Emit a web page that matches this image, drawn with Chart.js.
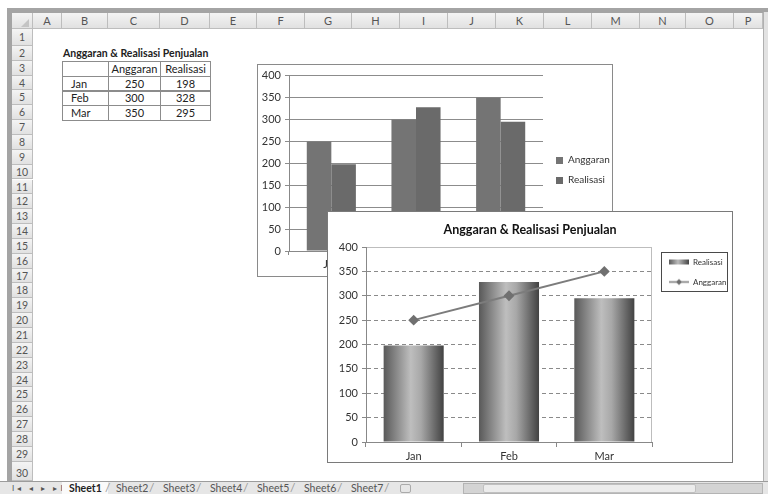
<!DOCTYPE html>
<html>
<head>
<meta charset="utf-8">
<script src="https://cdn.jsdelivr.net/npm/chart.js@4.4.1/dist/chart.umd.min.js"></script>
<style>
  body { margin: 0; width: 768px; height: 494px; overflow: hidden; background: #fff; position: relative; font-family: Lato, "Open Sans", sans-serif; color: #222; }
  .abs { position: absolute; box-sizing: border-box; }
  .hdr { background: linear-gradient(#f4f4f4, #e1e1e1); border-right: 1px solid #bdbdbd; border-bottom: 1px solid #bdbdbd; color: #555; font-size: 11px; text-align: center; }
  .cell { font-size: 11px; line-height: 14px; border: 1px solid #8c8c8c; text-align: center; color: #222; }
  .tab { font-size: 10.5px; color: #555; top: 482px; height: 12px; line-height: 12px; }
  .chartbox { background: #fff; }
</style>
</head>
<body>
<div id="sheet"></div>

<div class="abs chartbox" style="left:257px; top:64px; width:356px; height:213px; border:1px solid #8a8a8a; z-index:2;">
  <canvas id="chart1"></canvas>
</div>
<div class="abs chartbox" style="left:327px; top:211px; width:406px; height:252px; border:1px solid #7a7a7a; z-index:3;">
  <canvas id="chart2"></canvas>
</div>

<script>
// data
const months = ['Jan', 'Feb', 'Mar'];
const anggaran = [250, 300, 350];
const realisasi = [198, 328, 295];
const tableTitle = 'Anggaran & Realisasi Penjualan';
const yMin = 0, yMax = 400, yStep = 50;

// spreadsheet frame
const colLetters = ['A','B','C','D','E','F','G','H','I','J','K','L','M','N','O','P'];
const colEdges = [33, 62, 108, 160, 210, 257, 305, 352, 400, 448, 496, 544, 592, 640, 686, 734, 763];
const sheetTabs = ['Sheet1','Sheet2','Sheet3','Sheet4','Sheet5','Sheet6','Sheet7'];

const sheet = document.getElementById('sheet');
function box(style, cls, text) {
    const d = document.createElement('div');
    d.className = 'abs ' + (cls || '');
    d.setAttribute('style', style);
    if (text !== undefined) d.textContent = text;
    sheet.appendChild(d);
    return d;
}
function rowTop(n) { return n === 1 ? 29 : 31 + (n - 1) * 14.85; }

// window frame
box('left:7px; top:8px; width:761px; height:5px; background:#a4a4a4;');
box('left:7px; top:8px; width:5px; height:474px; background:#a4a4a4;');
box('left:763px; top:12px; width:5px; height:470px; background:#e2e2e2; border-left:1px solid #b0b0b0;');

// corner + column headers
box('left:12px; top:13px; width:21px; height:16px;', 'hdr');
box('left:21px; top:19px; width:0; height:0; border-left:8px solid transparent; border-bottom:8px solid #c4c4c4;');
colLetters.forEach((c, i) => {
    box(`left:${colEdges[i]}px; top:13px; width:${colEdges[i + 1] - colEdges[i]}px; height:16px; line-height:16px;`, 'hdr', c);
});

// row headers
for (let n = 1; n <= 30; n++) {
    const top = rowTop(n);
    const bottom = n === 30 ? 481 : rowTop(n + 1);
    const h = bottom - top;
    const lh = n === 30 ? 2 * h - 15 : h;
    box(`left:12px; top:${top}px; width:21px; height:${h}px; line-height:${lh}px; font-size:10.5px;`, 'hdr', String(n));
}

// table
box(`left:63px; top:${rowTop(2)}px; height:15px; line-height:15px; font-size:10.5px; font-weight:bold; white-space:nowrap;`, '', tableTitle);
const tCols = [62, 108, 160, 210];
const headRow = ['', 'Anggaran', 'Realisasi'];
headRow.forEach((t, c) => {
    box(`left:${tCols[c]}px; top:${rowTop(3)}px; width:${tCols[c + 1] - tCols[c] + 1}px; height:16px;`, 'cell', t);
});
months.forEach((m, r) => {
    const vals = [m, anggaran[r], realisasi[r]];
    vals.forEach((v, c) => {
        const align = c === 0 ? 'text-align:left; padding-left:8px;' : '';
        box(`left:${tCols[c]}px; top:${rowTop(4 + r)}px; width:${tCols[c + 1] - tCols[c] + 1}px; height:16px; ${align}`, 'cell', String(v));
    });
});

// sheet tab bar
box('left:0; top:481px; width:768px; height:13px; background:#e6e6e6; border-top:1px solid #9c9c9c;');
box('left:12px; top:482px; height:12px; line-height:12px; font-size:8px; color:#555; letter-spacing:3px;', '', 'I◂ ◂ ▸ ▸I');
box('left:62px; top:482px; width:46px; height:12px; background:#fafafa;');
sheetTabs.forEach((t, i) => {
    const x = i === 0 ? 69 : 116 + (i - 1) * 47;
    const tb = box(`left:${x}px;`, 'tab', t);
    if (i === 0) { tb.style.fontWeight = 'bold'; tb.style.color = '#222'; }
    box(`left:${x + (i === 0 ? 36 : 33)}px; top:482px; font-size:12px; line-height:12px; color:#999;`, '', '/');
});
box('left:400px; top:484px; width:11px; height:9px; border:1px solid #aaa; border-radius:2px;');
box('left:463px; top:483px; width:300px; height:11px; background:#d4d4d4; border:1px solid #b4b4b4;');
box('left:483px; top:484px; width:213px; height:9px; background:#ececec; border:1px solid #c0c0c0; border-radius:2px;');

// charts
Chart.defaults.font.family = 'Lato, "Open Sans", sans-serif';
Chart.defaults.color = '#333';

function squareIcon(color) {
    const c = document.createElement('canvas');
    c.width = 10; c.height = 7;
    const x = c.getContext('2d');
    x.fillStyle = color;
    x.fillRect(3, 0, 7, 7);
    return c;
}

function createBudgetChart() {
    const ctx = document.getElementById('chart1');
    const colors = ['#747474', '#6a6a6a'];
    const icons = colors.map(squareIcon);
    return new Chart(ctx, {
        type: 'bar',
        data: {
            labels: months,
            datasets: [
                { label: 'Anggaran', data: anggaran, backgroundColor: colors[0], categoryPercentage: 0.58, barPercentage: 1 },
                { label: 'Realisasi', data: realisasi, backgroundColor: colors[1], categoryPercentage: 0.58, barPercentage: 1 }
            ]
        },
        options: {
            responsive: true,
            maintainAspectRatio: false,
            animation: false,
            layout: { padding: { top: 9, right: 0, left: 0, bottom: 0 } },
            plugins: {
                legend: {
                    position: 'right',
                    align: 'start',
                    maxWidth: 69,
                    // empty title only used as a spacer to push the items down
                    title: { display: true, text: ' ', font: { size: 10 }, padding: { top: 59, bottom: 0 } },
                    labels: {
                        usePointStyle: true, pointStyleWidth: 10, boxHeight: 10, padding: 10,
                        font: { size: 10 }, color: '#333',
                        generateLabels(chart) {
                            const items = Chart.defaults.plugins.legend.labels.generateLabels(chart);
                            items.forEach(it => { it.pointStyle = icons[it.datasetIndex]; it.lineWidth = 0; });
                            return items;
                        }
                    }
                },
                tooltip: { enabled: false }
            },
            scales: {
                x: {
                    grid: { drawOnChartArea: false, tickLength: 4, color: '#888' },
                    border: { color: '#888' },
                    ticks: { font: { size: 11 }, padding: 3 },
                    afterFit(s) { s.height = 25; }
                },
                y: {
                    min: yMin, max: yMax,
                    ticks: { stepSize: yStep, font: { size: 11 }, padding: 4 },
                    grid: { color: '#8c8c8c', tickLength: 4 },
                    border: { color: '#888' },
                    afterFit(s) { s.width = 31; }
                }
            }
        }
    });
}

// bar gradient, dark edges with a light band a bit left of center
const barPct = 0.63;
function barGradient(context) {
    const chart = context.chart;
    const xs = chart.scales.x;
    if (!chart.chartArea || !xs || context.dataIndex === undefined) return '#8a8a8a';
    const cx = xs.getPixelForValue(context.dataIndex);
    const w = xs.width / months.length * barPct;
    const g = chart.ctx.createLinearGradient(cx - w / 2, 0, cx + w / 2, 0);
    g.addColorStop(0, '#595959');
    g.addColorStop(0.45, '#bebebe');
    g.addColorStop(0.62, '#a8a8a8');
    g.addColorStop(1, '#424242');
    return g;
}

function legendIcon(kind) {
    const c = document.createElement('canvas');
    c.width = 25; c.height = 9;
    const x = c.getContext('2d');
    if (kind === 'bar') {
        const g = x.createLinearGradient(5, 0, 25, 0);
        g.addColorStop(0, '#5a5a5a'); g.addColorStop(0.45, '#bcbcbc'); g.addColorStop(1, '#454545');
        x.fillStyle = g;
        x.fillRect(5, 2, 20, 5);
    } else {
        x.strokeStyle = '#777'; x.lineWidth = 1.5;
        x.beginPath(); x.moveTo(5, 4.5); x.lineTo(25, 4.5); x.stroke();
        x.fillStyle = '#6e6e6e';
        x.beginPath(); x.moveTo(15, 1.5); x.lineTo(18, 4.5); x.lineTo(15, 7.5); x.lineTo(12, 4.5); x.closePath(); x.fill();
    }
    return c;
}
const legendIcons = [legendIcon('bar'), legendIcon('line')];

const plotFrame = {
    id: 'plotFrame',
    beforeDatasetsDraw(chart) {
        const { top, right, bottom } = chart.chartArea;
        const c = chart.ctx;
        c.save();
        c.strokeStyle = '#bdbdbd';
        c.lineWidth = 1;
        c.beginPath();
        c.moveTo(Math.round(right) - 0.5, Math.round(top) + 0.5);
        c.lineTo(Math.round(right) - 0.5, Math.round(bottom));
        c.stroke();
        c.restore();
    }
};

const legendFrame = {
    id: 'legendFrame',
    afterDraw(chart) {
        const boxes = chart.legend && chart.legend.legendHitBoxes;
        if (!boxes || !boxes.length) return;
        let l = Infinity, t = Infinity, r = -Infinity, b = -Infinity;
        boxes.forEach(h => {
            l = Math.min(l, h.left); t = Math.min(t, h.top);
            r = Math.max(r, h.left + h.width); b = Math.max(b, h.top + h.height);
        });
        const c = chart.ctx;
        c.save();
        c.strokeStyle = '#4a4a4a';
        c.lineWidth = 1;
        c.strokeRect(Math.round(l - 3) + 0.5, Math.round(t - 6) + 0.5, Math.round(r - l + 4), Math.round(b - t + 11));
        c.restore();
    }
};

function createComboChart() {
    const ctx = document.getElementById('chart2');
    return new Chart(ctx, {
        data: {
            labels: months,
            datasets: [
                {
                    type: 'bar', label: 'Realisasi', data: realisasi,
                    backgroundColor: barGradient, categoryPercentage: 1, barPercentage: barPct, order: 1
                },
                {
                    type: 'line', label: 'Anggaran', data: anggaran,
                    borderColor: '#7c7c7c', borderWidth: 2, tension: 0,
                    pointStyle: 'rectRot', pointRadius: 4,
                    pointBackgroundColor: '#707070', pointBorderColor: '#707070', order: 0
                }
            ]
        },
        options: {
            responsive: true,
            maintainAspectRatio: false,
            animation: false,
            layout: { padding: { right: 0 } },
            plugins: {
                title: {
                    display: true, text: tableTitle, color: '#111',
                    font: { size: 12.5, weight: 'bold' }, padding: { top: 10, bottom: 10 }
                },
                legend: {
                    position: 'right',
                    align: 'start',
                    maxWidth: 80,
                    title: { display: true, text: ' ', font: { size: 10 }, padding: { top: 22, bottom: 0 } },
                    labels: {
                        usePointStyle: true, pointStyleWidth: 25, padding: 12,
                        font: { size: 8 }, color: '#333',
                        sort: (a, b) => a.datasetIndex - b.datasetIndex,
                        generateLabels(chart) {
                            const items = Chart.defaults.plugins.legend.labels.generateLabels(chart);
                            items.forEach(it => { it.pointStyle = legendIcons[it.datasetIndex]; it.lineWidth = 0; });
                            return items;
                        }
                    }
                },
                tooltip: { enabled: false }
            },
            scales: {
                x: {
                    grid: { drawOnChartArea: false, tickLength: 5, color: '#888', offset: true },
                    border: { color: '#888' },
                    ticks: { font: { size: 11 }, padding: 3 },
                    afterFit(s) { s.height = 20; }
                },
                y: {
                    min: yMin, max: yMax,
                    ticks: { stepSize: yStep, font: { size: 11 }, padding: 4 },
                    grid: {
                        color: c => (c.tick && c.tick.value === yMax) ? '#bdbdbd' : '#8a8a8a',
                        tickLength: 4, tickColor: '#888'
                    },
                    border: {
                        color: '#888',
                        dash: c => (c.tick && c.tick.value !== yMax) ? [4, 3] : []
                    },
                    afterFit(s) { s.width = 38; }
                }
            }
        },
        plugins: [plotFrame, legendFrame]
    });
}

let budgetChart = createBudgetChart();
let comboChart = createComboChart();
</script>
</body>
</html>
